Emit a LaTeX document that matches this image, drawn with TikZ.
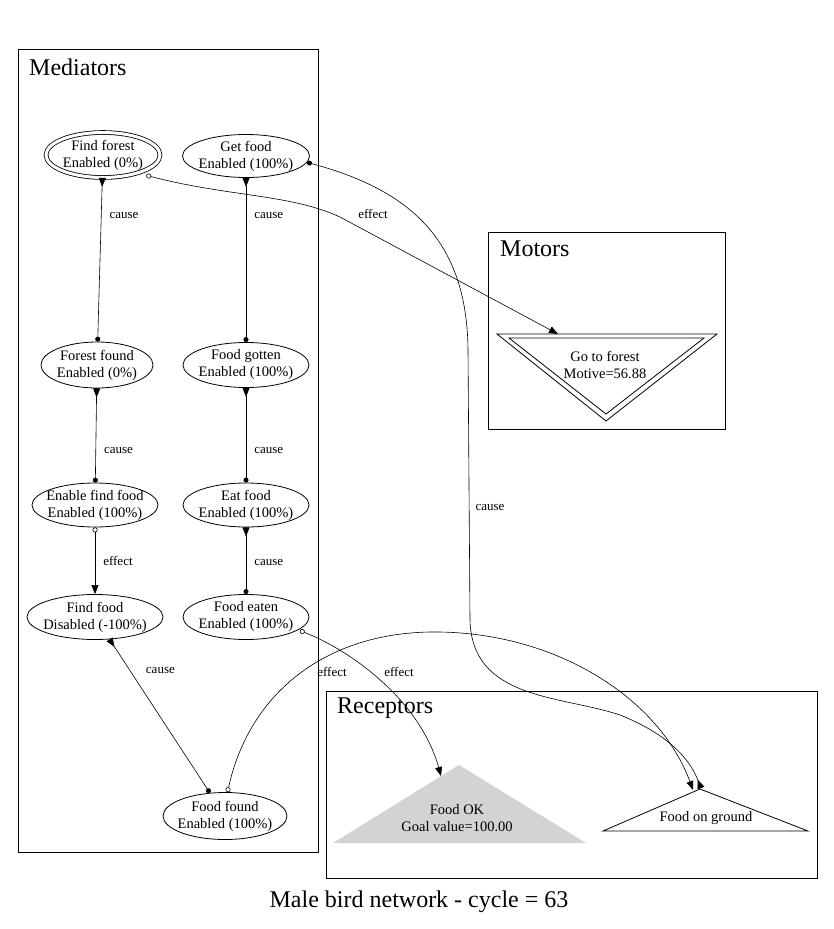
\documentclass[tikz,border=0pt]{standalone}
\usepackage{fontspec}
\setmainfont{Liberation Serif}
\usepackage{xcolor}
\usetikzlibrary{arrows.meta}
\usetikzlibrary{shapes.geometric}
\definecolor{grisbut}{HTML}{D3D3D3}

\begin{document}
\begin{tikzpicture}[x=1pt,y=-1pt,
    etat/.style={draw, ellipse, line width=.8pt, inner sep=-8pt, align=center, font=\fontsize{14.5}{17}\selectfont},
    txt/.style={align=center, font=\fontsize{14.5}{17}\selectfont},
    lbl/.style={font=\fontsize{13}{15}\selectfont, inner sep=2pt},
    grp/.style={font=\fontsize{24}{28}\selectfont, anchor=west, inner sep=0pt},
    cause/.style={line width=.6pt, {Triangle[reversed,length=9pt,width=7pt]}-{Circle[length=5pt]}},
    effect/.style={line width=.6pt, {Circle[open,length=5pt]}-{Triangle[length=9pt,width=7pt]}}]
    \useasboundingbox (0,0) rectangle (833,929);
    % groupes
    \draw[line width=.8pt] (18,49) rectangle (318,852);
    \draw[line width=.8pt] (488,232) rectangle (725,429);
    \draw[line width=.8pt] (326,691) rectangle (817,878);
    \node[grp] (med) at (29,67) {Mediators};
    \node[grp] (mot) at (500,249) {Motors};
    \node[grp] (rec) at (337,708) {Receptors};

    % médiateurs
    \node[etat, double, double distance=3pt, minimum width=114pt, minimum height=45pt] (ff) at (103,155) {Find forest\\Enabled (0\%)};
    \node[etat, minimum width=127pt, minimum height=43pt] (gf) at (246,156) {Get food\\Enabled (100\%)};
    \node[etat, minimum width=112pt, minimum height=46pt] (fofo) at (97,365) {Forest found\\Enabled (0\%)};
    \node[etat, minimum width=126pt, minimum height=45pt] (fg) at (246,365) {Food gotten\\Enabled (100\%)};
    \node[etat, minimum width=126pt, minimum height=44pt] (eff) at (95,505) {Enable find food\\Enabled (100\%)};
    \node[etat, minimum width=126pt, minimum height=44pt] (ef) at (246,505) {Eat food\\Enabled (100\%)};
    \node[etat, minimum width=136pt, minimum height=45pt] (fdf) at (95,617) {Find food\\Disabled (-100\%)};
    \node[etat, minimum width=126pt, minimum height=45pt] (fe) at (246,617) {Food eaten\\Enabled (100\%)};
    \node[etat, minimum width=124pt, minimum height=47pt] (fdfd) at (225,816) {Food found\\Enabled (100\%)};

    % moteur
    \draw[line width=.8pt] (497,334) -- (717,334) -- (606,421) -- cycle;
    \draw[line width=.8pt] (509,338) -- (704,338) -- (606,414) -- cycle;
    \node[txt] (gtf) at (605,365) {Go to forest\\Motive=56.88};
    \coordinate (gtfin) at (558,334);

    % récepteurs
    \fill[grisbut] (459,765) -- (586,843) -- (333,843) -- cycle;
    \node[txt] (fok) at (457,818) {Food OK\\Goal value=100.00};
    \coordinate (fokin) at (441,776);
    \draw[line width=.8pt] (700,789) -- (808,831) -- (603,831) -- cycle;
    \node[txt] (fog) at (706,818) {Food on ground};
    \coordinate (fogin) at (693,790);
    \coordinate (fogin2) at (701,788);

    % liens
    \draw[cause] (ff) -- node[lbl, right=6pt, pos=.23] (l1) {cause} (fofo);
    \draw[cause] (gf) -- node[lbl, right=6pt, pos=.23] (l2) {cause} (fg);
    \draw[cause] (fofo) -- node[lbl, right=6pt, pos=.66] (l3) {cause} (eff);
    \draw[cause] (fg) -- node[lbl, right=6pt, pos=.66] (l4) {cause} (ef);
    \draw[effect] (eff) -- node[lbl, right=6pt, pos=.5] (l5) {effect} (fdf);
    \draw[cause] (ef) -- node[lbl, right=6pt, pos=.52] (l6) {cause} (fe);
    \draw[cause] (fdf) -- node[lbl, right=14pt, pos=.2] (l7) {cause} (fdfd);
    \draw[effect] ([shift={(6,3)}]ff.-25) .. controls (230,197) and (290,194) .. (340,217) -- (gtfin);
    \node[lbl] (l8) at (373,214) {effect};
    \draw[cause] (fogin2) .. controls (690,760) and (670,735) .. (620,715) .. controls (560,695) and (472,700) .. (470,620) -- (468,350) .. controls (467,240) and (410,190) .. (gf.-6);
    \node[lbl] (l9) at (490,507) {cause};
    \draw[effect] (fdfd.84) .. controls (250,690) and (330,630) .. (440,632) .. controls (560,634) and (660,700) .. (fogin);
    \node[lbl] (l10) at (332,672) {effect};
    \draw[effect] ([shift={(3,0)}]fe.-15) .. controls (350,650) and (420,700) .. (fokin);
    \node[lbl] (l11) at (399,672) {effect};

    \node[font=\fontsize{24}{28}\selectfont] (titre) at (419,902) {Male bird network - cycle = 63};
\end{tikzpicture}
\end{document}
